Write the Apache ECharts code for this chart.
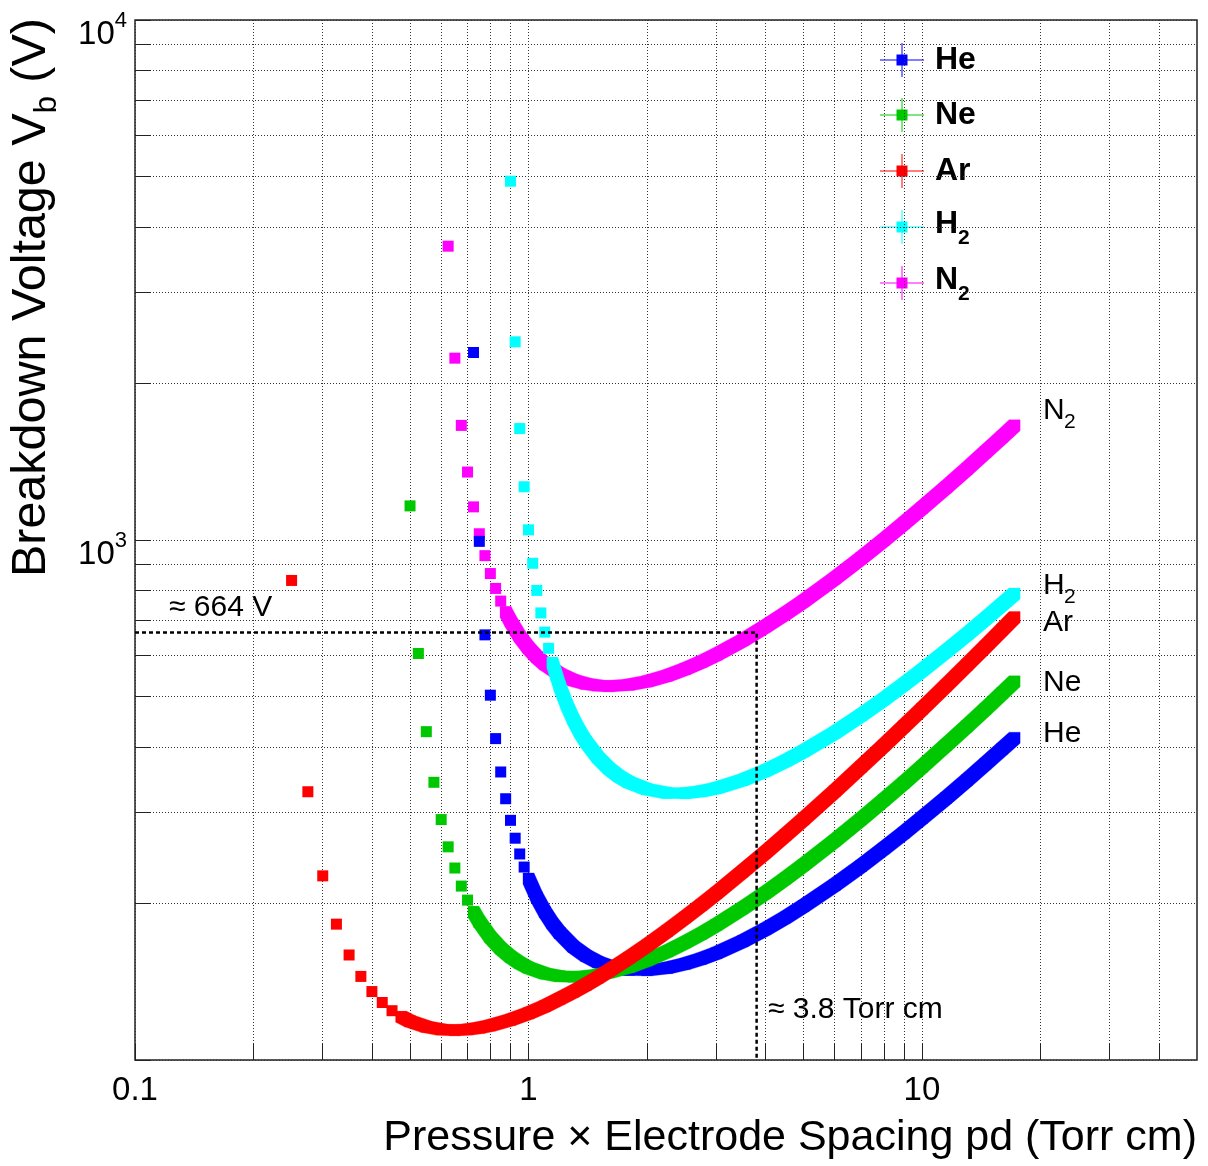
<!DOCTYPE html>
<html><head><meta charset="utf-8">
<script src="https://cdn.jsdelivr.net/npm/echarts@6/dist/echarts.min.js"></script>
<style>html,body{margin:0;padding:0;background:#fff}#c{width:1208px;height:1166px}</style>
</head><body><div id="c"></div>
<script>
// ---- data (pd in Torr cm, breakdown voltage in V) ----
const gasNames = ['He', 'Ne', 'Ar', 'H2', 'N2'];
const gasColors = ['#0000ff', '#00c800', '#ff0000', '#00ffff', '#ff00ff'];

const heDots = [[0.725,2294],[0.75,994],[0.775,657],[0.8,503],[0.825,415],[0.85,358],[0.875,318],[0.9,289],[0.925,267],[0.95,249],[0.975,235],[1.0,223.4]];
const heBand = [[1.0,223.4],[1.05,205.6],[1.1,192.7],[1.15,183.0],[1.2,175.6],[1.3,165.2],[1.4,158.6],[1.5,154.3],[1.6,151.6],[1.8,149.0],[2.0,148.8],[2.25,150.3],[2.5,153.1],[2.75,156.6],[3.0,160.5],[3.5,169.2],[4,178.5],[4.5,188.0],[5,197.7],[6,217.0],[7,236.1],[8,255.0],[9,273.5],[10,291.9],[11.5,318.8],[13,345.2],[14.5,371.1],[16,396.6],[17.2,416.7]];

const neDots = [[0.5,1163],[0.525,605],[0.55,428],[0.575,342],[0.6,290],[0.625,257],[0.65,234],[0.675,216],[0.7,203],[0.725,192.7],[0.75,184.4]];
const neBand = [[0.725,192.7],[0.75,184.4],[0.8,172.2],[0.85,163.8],[0.9,157.9],[0.95,153.6],[1.0,150.5],[1.1,146.6],[1.2,144.9],[1.3,144.5],[1.4,144.9],[1.5,145.9],[1.6,147.3],[1.8,151.0],[2.0,155.5],[2.25,161.6],[2.5,168.2],[2.75,174.9],[3.0,181.8],[3.5,195.7],[4,209.6],[4.5,223.5],[5,237.2],[6,264.1],[7,290.5],[8,316.3],[9,341.5],[10,366.3],[11.5,402.8],[13,438.4],[14.5,473.4],[16,507.7],[17.2,534.8]];

const arDots = [[0.25,836],[0.275,328],[0.3,226],[0.325,182.5],[0.35,159.2],[0.375,144.8],[0.4,135.4],[0.425,129.0],[0.45,124.4],[0.475,121.1],[0.5,118.7]];
const arBand = [[0.475,121.1],[0.5,118.7],[0.55,115.8],[0.6,114.4],[0.65,114.1],[0.7,114.5],[0.75,115.3],[0.8,116.5],[0.9,119.5],[1.0,123.0],[1.1,126.9],[1.2,131.1],[1.3,135.3],[1.4,139.6],[1.5,144.0],[1.6,148.4],[1.8,157.3],[2.0,166.1],[2.25,177.1],[2.5,188.0],[2.75,198.7],[3.0,209.3],[3.5,230.3],[4,250.7],[4.5,270.8],[5,290.5],[6,328.9],[7,366.2],[8,402.6],[9,438.3],[10,473.3],[11.5,524.7],[13,575.0],[14.5,624.3],[16,672.8],[17.2,711.0]];

const h2Dots = [[0.9,4898],[0.925,2405],[0.95,1638],[0.975,1266],[1.0,1046],[1.025,902],[1.05,800],[1.075,724],[1.1,665],[1.125,619],[1.15,581],[1.175,550],[1.2,524]];
const h2Band = [[1.15,581.0],[1.2,523.7],[1.25,482.5],[1.3,451.7],[1.35,428.0],[1.4,409.3],[1.5,382.1],[1.6,363.7],[1.7,351.0],[1.8,342.1],[2.0,331.5],[2.25,326.3],[2.5,326.0],[2.75,328.7],[3.0,333.2],[3.5,345.4],[4,360.0],[4.5,375.8],[5,392.3],[6,426.1],[7,460.2],[8,494.1],[9,527.8],[10,561.0],[11.5,610.1],[13,658.3],[14.5,705.7],[16,752.3],[17.2,789.1]];

const n2Dots = [[0.625,3673],[0.65,2237],[0.675,1661],[0.7,1351],[0.725,1158],[0.75,1028],[0.775,933],[0.8,862],[0.825,807],[0.85,763],[0.875,727],[0.9,698]];
const n2Band = [[0.875,727.2],[0.9,697.8],[0.95,652.6],[1.0,619.9],[1.05,595.6],[1.1,577.2],[1.2,552.2],[1.3,537.5],[1.4,529.0],[1.5,524.8],[1.6,523.5],[1.8,526.6],[2.0,534.6],[2.25,548.4],[2.5,564.8],[2.75,582.7],[3.0,601.6],[3.5,641.1],[4,681.5],[4.5,722.2],[5,762.8],[6,843.3],[7,922.5],[8,1000.3],[9,1076.6],[10,1151.7],[11.5,1262.1],[13,1370.1],[14.5,1476.0],[16,1580.1],[17.2,1662.2]];

// axis ticks / labels
const xTickValues = [0.1,0.2,0.3,0.4,0.5,0.6,0.7,0.8,0.9,1,2,3,4,5,6,7,8,9,10,20,30,40];
const xLabelValues = [0.1, 1, 10];
const yTickValues = [100,200,300,400,500,600,700,800,900,1000,2000,3000,4000,5000,6000,7000,8000,9000,10000];
const yLabelValues = [1000, 10000];
const xRange = [0.1, 50];
const yRange = [100, 10000];

// reference marker (N2 at 3.8 Torr cm)
const refPd = 3.8;
const refV = 664;

// ---- drawing ----
const FONT = 'Liberation Sans, Arial, Helvetica, sans-serif';
const SQ = 11;

function convexHull(pts) {
  pts.sort((a, b) => a[0] - b[0] || a[1] - b[1]);
  const cross = (o, a, b) => (a[0]-o[0])*(b[1]-o[1]) - (a[1]-o[1])*(b[0]-o[0]);
  const lower = [], upper = [];
  for (const p of pts) { while (lower.length >= 2 && cross(lower[lower.length-2], lower[lower.length-1], p) <= 0) lower.pop(); lower.push(p); }
  for (let i = pts.length - 1; i >= 0; i--) { const p = pts[i]; while (upper.length >= 2 && cross(upper[upper.length-2], upper[upper.length-1], p) <= 0) upper.pop(); upper.push(p); }
  upper.pop(); lower.pop();
  return lower.concat(upper);
}
function bandRenderer(color) {
  return function (params, api) {
    const a = api.coord([api.value(0), api.value(1)]);
    const b = api.coord([api.value(2), api.value(3)]);
    const h = SQ / 2, pts = [];
    [a, b].forEach(p => { pts.push([p[0]-h, p[1]-h], [p[0]+h, p[1]-h], [p[0]+h, p[1]+h], [p[0]-h, p[1]+h]); });
    return { type: 'polygon', shape: { points: convexHull(pts) }, style: { fill: color, stroke: color, lineWidth: 0.3 } };
  };
}
function segments(band) {
  const out = [];
  for (let i = 0; i + 1 < band.length; i++) out.push([band[i][0], band[i][1], band[i+1][0], band[i+1][1]]);
  return out;
}

const gasData = { He: [heDots, heBand], Ne: [neDots, neBand], Ar: [arDots, arBand], H2: [h2Dots, h2Band], N2: [n2Dots, n2Band] };
const drawOrder = ['N2', 'He', 'Ne', 'H2', 'Ar'];
const series = [];
drawOrder.forEach(name => {
  const color = gasColors[gasNames.indexOf(name)];
  const [dots, band] = gasData[name];
  series.push({ name, type: 'scatter', symbol: 'rect', symbolSize: SQ, data: dots, itemStyle: { color, opacity: 1 }, silent: true, animation: false });
  series.push({ name, type: 'custom', renderItem: bandRenderer(color), data: segments(band), encode: { x: [0, 2], y: [1, 3] }, silent: true, animation: false });
});
series.push({
  name: 'ref', type: 'line', data: [[xRange[0], refV], [refPd, refV], [refPd, yRange[0]]],
  symbol: 'none', lineStyle: { color: '#000', width: 2.5, type: [4, 3] }, z: 10, silent: true, animation: false
});

// legend drawn as graphic
const legendY = [60, 115, 171, 227, 283];
const legendGraphics = [];
gasNames.forEach((name, i) => {
  const y = legendY[i], cx = 902, c = gasColors[i];
  legendGraphics.push({ type: 'line', shape: { x1: cx - 22, y1: y, x2: cx + 22, y2: y }, style: { stroke: c, lineWidth: 1 } });
  legendGraphics.push({ type: 'line', shape: { x1: cx, y1: y - 17, x2: cx, y2: y + 17 }, style: { stroke: c, lineWidth: 1 } });
  legendGraphics.push({ type: 'rect', shape: { x: cx - 5.5, y: y - 5.5, width: 11, height: 11 }, style: { fill: c } });
  const main = name.replace('2', '');
  const sub = name.includes('2');
  legendGraphics.push({ type: 'text', x: 935, y: sub ? y - 3 : y, style: { text: main, font: 'bold 32px ' + FONT, fill: '#000', textAlign: 'left', textVerticalAlign: 'middle' } });
  if (sub) legendGraphics.push({ type: 'text', x: 958, y: y + 11, style: { text: '2', font: 'bold 21px ' + FONT, fill: '#000', textAlign: 'left', textVerticalAlign: 'middle' } });
});

// curve end labels
const endLabels = [['N', '2', 411], ['H', '2', 586], ['Ar', '', 623], ['Ne', '', 683], ['He', '', 734]];
const endGraphics = [];
endLabels.forEach(([m, s, y]) => {
  endGraphics.push({ type: 'text', x: 1043, y, style: { text: m, font: '30px ' + FONT, fill: '#000', textAlign: 'left', textVerticalAlign: 'middle' } });
  if (s) endGraphics.push({ type: 'text', x: 1064, y: y + 11, style: { text: s, font: '21px ' + FONT, fill: '#000', textAlign: 'left', textVerticalAlign: 'middle' } });
});

const gridLine = { color: '#333', width: 1, type: [1, 2] };

const chart = echarts.init(document.getElementById('c'), null, { renderer: 'canvas' });
chart.setOption({
  animation: false,
  backgroundColor: '#fff',
  grid: { left: 135, right: 11, top: 20, bottom: 106, show: true, borderColor: '#222', borderWidth: 1.5, containLabel: false },
  xAxis: {
    type: 'log', logBase: 10, min: xRange[0], max: xRange[1],
    axisLine: { show: false },
    axisTick: { show: true, inside: true, length: 16, customValues: xTickValues, lineStyle: { color: '#222', width: 1 } },
    axisLabel: { customValues: xLabelValues, fontSize: 33, fontFamily: FONT, color: '#000', margin: 14, formatter: v => String(v) },
    splitLine: { show: true, lineStyle: gridLine },
    minorTick: { show: false }, minorSplitLine: { show: false }
  },
  yAxis: {
    type: 'log', logBase: 10, min: yRange[0], max: yRange[1],
    axisLine: { show: false },
    axisTick: { show: true, inside: true, length: 16, customValues: yTickValues, lineStyle: { color: '#222', width: 1 } },
    axisLabel: {
      customValues: yLabelValues, color: '#000', margin: 8, padding: [30, 0, 0, 0],
      formatter: v => '{b|10}{s|' + Math.round(Math.log10(v)) + '}',
      rich: { b: { fontSize: 33, fontFamily: FONT, color: '#000' }, s: { fontSize: 22, fontFamily: FONT, color: '#000', padding: [0, 0, 28, 0] } }
    },
    splitLine: { show: true, lineStyle: gridLine },
    minorTick: { show: false }, minorSplitLine: { show: false }
  },
  series,
  graphic: [
    { type: 'text', x: 1197, y: 1138, style: { text: 'Pressure × Electrode Spacing pd (Torr cm)', font: '43px ' + FONT, fill: '#000', textAlign: 'right', textVerticalAlign: 'middle' } },
    { type: 'text', x: 32, y: 18, rotation: Math.PI / 2, style: {
        text: '{a|Breakdown Voltage V}{b|b}{a| (V)}', textAlign: 'right', textVerticalAlign: 'middle',
        rich: { a: { fontSize: 48.5, fontFamily: FONT, color: '#000' }, b: { fontSize: 31, fontFamily: FONT, color: '#000', padding: [30, 0, 0, 0] } } } },
    { type: 'text', x: 169, y: 608, style: { text: '≈ 664 V', font: '30px ' + FONT, fill: '#000', textAlign: 'left', textVerticalAlign: 'middle' } },
    { type: 'text', x: 768, y: 1010, style: { text: '≈ 3.8 Torr cm', font: '30px ' + FONT, fill: '#000', textAlign: 'left', textVerticalAlign: 'middle' } },
    ...legendGraphics,
    ...endGraphics
  ]
});
</script></body></html>
